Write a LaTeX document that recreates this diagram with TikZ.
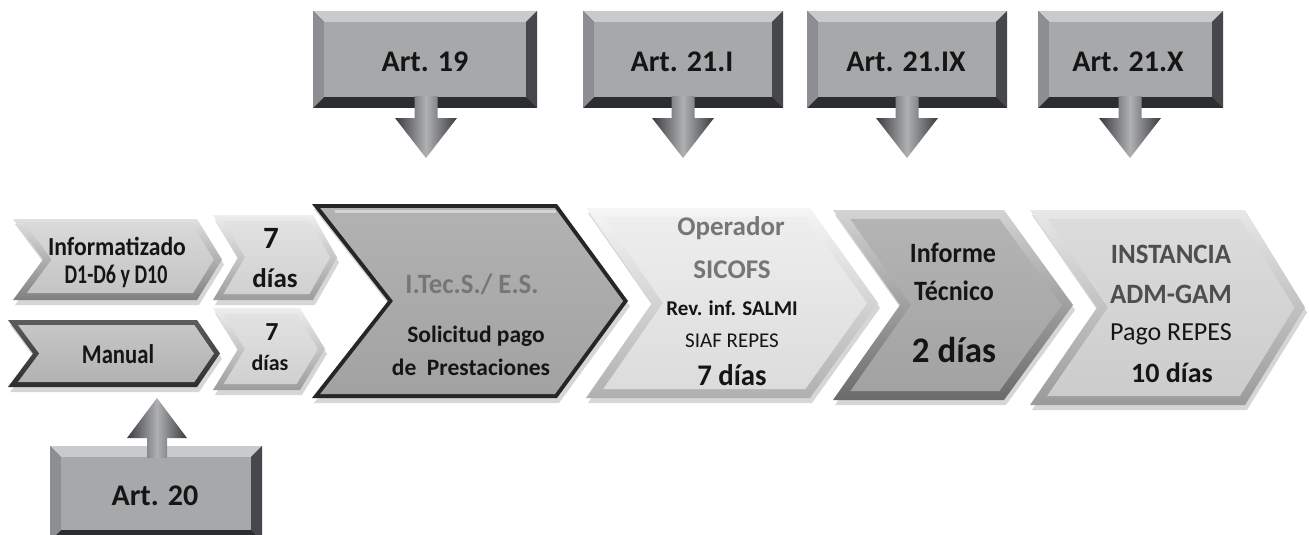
\documentclass[tikz,border=0pt]{standalone}
\usepackage{fontspec}
\setmainfont{Carlito}
\usepackage{graphicx}

% bevelled label boxes
\definecolor{artface}{HTML}{A6A8AA}
\definecolor{artlight}{HTML}{C9CACC}
\definecolor{artmid}{HTML}{8C8E92}
\definecolor{artdark}{HTML}{2C2D31}
\definecolor{artright}{HTML}{46474B}
% block arrows
\definecolor{arrdark}{HTML}{3A3B3F}
\definecolor{arrlight}{HTML}{AEB0B2}
% text inks
\definecolor{ink}{HTML}{151515}
\definecolor{inkgray}{HTML}{767676}
\definecolor{inkdark}{HTML}{4E4E4E}
% chevron fills (outer rim / face)
\definecolor{infOa}{HTML}{E0E0E0}\definecolor{infOb}{HTML}{808080}
\definecolor{infFa}{HTML}{D8D8D8}\definecolor{infFb}{HTML}{C4C4C4}
\definecolor{manOa}{HTML}{5C5C5C}\definecolor{manOb}{HTML}{2E2E2E}
\definecolor{manFa}{HTML}{C6C6C6}\definecolor{manFb}{HTML}{B2B2B2}
\definecolor{dayOa}{HTML}{EEEEEE}\definecolor{dayOb}{HTML}{9C9C9C}
\definecolor{dayFa}{HTML}{E2E2E2}\definecolor{dayFb}{HTML}{D0D0D0}
\definecolor{itcO}{HTML}{262626}
\definecolor{itcFa}{HTML}{B2B2B2}\definecolor{itcFb}{HTML}{A2A2A2}
\definecolor{opOa}{HTML}{F6F6F6}\definecolor{opOb}{HTML}{B0B0B0}
\definecolor{opFa}{HTML}{EEEEEE}\definecolor{opFb}{HTML}{DCDCDC}
\definecolor{tecOa}{HTML}{D4D4D4}\definecolor{tecOb}{HTML}{6A6A6A}
\definecolor{tecFa}{HTML}{B4B4B4}\definecolor{tecFb}{HTML}{A2A2A2}
\definecolor{insOa}{HTML}{E8E8E8}\definecolor{insOb}{HTML}{9A9A9A}
\definecolor{insFa}{HTML}{DCDCDC}\definecolor{insFb}{HTML}{CCCCCC}

% chevron: #1 left x, #2 top-right x, #3 tip x, #4 top y, #5 bottom y,
% #6 notch depth, #7 rim width, #8 rim fill, #9 face fill
\newcommand\chev[9]{%
  \pgfmathsetmacro\chmid{(#4+#5)/2}%
  \pgfmathsetmacro\chhalf{(#5-#4)/2}%
  \pgfmathsetmacro\chhr{#7*veclen(#3-#2,\chhalf)/\chhalf}%
  \pgfmathsetmacro\chhl{#7*veclen(#6,\chhalf)/\chhalf}%
  \pgfmathsetmacro\chxl{#1+\chhl+#6*#7/\chhalf}%
  \pgfmathsetmacro\chxr{#2-\chhr+(#3-#2)*#7/\chhalf}%
  \fill[black,opacity=.16] ({#1+2},{#4+5}) -- ({#2+2},{#4+5}) -- ({#3+2},{\chmid+5})
    -- ({#2+2},{#5+5}) -- ({#1+2},{#5+5}) -- ({#1+#6+2},{\chmid+5}) -- cycle;
  \shade[#8] (#1,#4) -- (#2,#4) -- (#3,\chmid) -- (#2,#5) -- (#1,#5)
    -- ({#1+#6},\chmid) -- cycle;
  \shade[#9] (\chxl,{#4+#7}) -- (\chxr,{#4+#7}) -- ({#3-\chhr},\chmid)
    -- (\chxr,{#5-#7}) -- (\chxl,{#5-#7}) -- ({#1+#6+\chhl},\chmid) -- cycle;
}

% bevelled box: #1 left, #2 top, #3 right, #4 bottom
\newcommand\artbox[4]{%
  \fill[artdark] (#1,#2) rectangle (#3,#4);
  \fill[artlight] (#1,#2) -- (#3,#2) -- ({#3-11},{#2+11}) -- ({#1+11},{#2+11}) -- cycle;
  \fill[artmid] (#1,#2) -- ({#1+11},{#2+11}) -- ({#1+11},{#4-11}) -- (#1,#4) -- cycle;
  \fill[artright] (#3,#2) -- ({#3-11},{#2+11}) -- ({#3-11},{#4-11}) -- (#3,#4) -- cycle;
  \fill[artface] ({#1+11},{#2+11}) rectangle ({#3-11},{#4-11});
}

% block arrow pointing down: #1 centre x, #2 shaft top, #3 tip y
\newcommand\arrdown[3]{%
  \shade[arrowfill] ({#1-11.5},#2) -- ({#1+11.5},#2) -- ({#1+11.5},{#3-40})
    -- ({#1+31},{#3-40}) -- (#1,#3) -- ({#1-31},{#3-40}) -- ({#1-11.5},{#3-40}) -- cycle;
}
% block arrow pointing up: #1 centre x, #2 shaft bottom, #3 tip y
\newcommand\arrup[3]{%
  \shade[arrowfill] ({#1-10},#2) -- ({#1+10},#2) -- ({#1+10},{#3+40})
    -- ({#1+30},{#3+40}) -- (#1,#3) -- ({#1-30},{#3+40}) -- ({#1-10},{#3+40}) -- cycle;
}

\begin{document}
\begin{tikzpicture}[x=1pt,y=-1pt,
  arrowfill/.style={left color=arrdark,right color=arrdark,middle color=arrlight},
  lbl/.style={anchor=base,inner sep=0pt,text=ink},
  arttext/.style={lbl,font=\fontsize{30}{36}\selectfont\bfseries}]
\useasboundingbox (0,0) rectangle (1309,535);
\clip (0,0) rectangle (1309,535);
\fill[white] (0,0) rectangle (1309,535);

% ---- process chevrons ----
\chev{13}{197}{222}{219}{300}{30}{7}{top color=infOa,bottom color=infOb}{top color=infFa,bottom color=infFb}
\chev{8}{197}{220}{320}{387}{25}{5}{top color=manOa,bottom color=manOb}{top color=manFa,bottom color=manFb}
\chev{213}{313}{337}{215}{300}{25}{6}{top color=dayOa,bottom color=dayOb}{top color=dayFa,bottom color=dayFb}
\chev{213}{300}{325}{308}{390}{25}{6}{top color=dayOa,bottom color=dayOb}{top color=dayFa,bottom color=dayFb}
\chev{312}{557}{628}{204}{398}{76}{4}{top color=itcO,bottom color=itcO}{top color=itcFa,bottom color=itcFb}
\draw[white,opacity=.45,line width=3pt] (335,211) -- (556,211);
\chev{586}{810}{878}{208}{398}{66}{9}{top color=opOa,bottom color=opOb}{top color=opFa,bottom color=opFb}
\chev{833}{1004}{1073}{210}{400}{67}{9}{top color=tecOa,bottom color=tecOb}{top color=tecFa,bottom color=tecFb}
\chev{1030}{1245}{1305}{210}{405}{67}{9}{top color=insOa,bottom color=insOb}{top color=insFa,bottom color=insFb}

% ---- chevron texts ----
\node[lbl,font=\fontsize{26}{30}\selectfont\bfseries] (inf1) at (117,255) {\scalebox{0.91}[1]{Informatizado}};
\node[lbl,font=\fontsize{27}{30}\selectfont\bfseries] (inf2) at (116,283) {\scalebox{0.74}[1]{D1-D6 y D10}};
\node[lbl,font=\fontsize{27}{30}\selectfont\bfseries] (man) at (118,363) {\scalebox{0.84}[1]{Manual}};
\node[lbl,font=\fontsize{31}{34}\selectfont\bfseries] (d7a1) at (271,248) {7};
\node[lbl,font=\fontsize{27}{32}\selectfont\bfseries] (d7a2) at (275,287) {días};
\node[lbl,font=\fontsize{26}{30}\selectfont\bfseries] (d7b1) at (272,340) {7};
\node[lbl,font=\fontsize{22}{26}\selectfont\bfseries] (d7b2) at (270,370) {días};

\node[lbl,text=inkgray,font=\fontsize{28}{32}\selectfont\bfseries] (itc1) at (472,293) {\scalebox{0.96}[1]{I.Tec.S./ E.S.}};
\node[lbl,font=\fontsize{23.5}{28}\selectfont\bfseries] (itc2) at (476,342) {Solicitud pago};
\node[lbl,font=\fontsize{23.5}{28}\selectfont\bfseries] (itc3) at (471,375) {de\ \ Prestaciones};

\node[lbl,text=inkgray,font=\fontsize{27}{32}\selectfont\bfseries] (op1) at (731,235) {Operador};
\node[lbl,text=inkgray,font=\fontsize{27}{32}\selectfont\bfseries] (op2) at (732,278) {SICOFS};
\node[lbl,font=\fontsize{21}{25}\selectfont\bfseries] (op3) at (732,315) {Rev. inf. SALMI};
\node[lbl,font=\fontsize{21}{25}\selectfont] (op4) at (732,347) {SIAF REPES};
\node[lbl,font=\fontsize{30}{34}\selectfont\bfseries] (op5) at (732,385) {\scalebox{0.96}[1]{7 días}};

\node[lbl,font=\fontsize{28}{31}\selectfont\bfseries] (tec1) at (953,262) {\scalebox{0.93}[1]{Informe}};
\node[lbl,font=\fontsize{28}{31}\selectfont\bfseries] (tec2) at (954,300) {\scalebox{0.93}[1]{Técnico}};
\node[lbl,font=\fontsize{36}{40}\selectfont\bfseries] (tec3) at (954,362) {\scalebox{0.97}[1]{2 días}};

\node[lbl,text=inkdark,font=\fontsize{28}{32}\selectfont\bfseries] (ins1) at (1171,263) {\scalebox{0.96}[1]{INSTANCIA}};
\node[lbl,text=inkdark,font=\fontsize{28}{32}\selectfont\bfseries] (ins2) at (1171,303) {\scalebox{0.96}[1]{ADM-GAM}};
\node[lbl,font=\fontsize{26}{31}\selectfont] (ins3) at (1171,340) {Pago REPES};
\node[lbl,font=\fontsize{28}{33}\selectfont\bfseries] (ins4) at (1172,382) {10 días};

% ---- article boxes with their arrows ----
\artbox{313}{11}{537}{108}
\node[arttext] (a19) at (425,72) {Art. 19};
\arrdown{426}{96}{158}

\artbox{583}{11}{783}{108}
\node[arttext] (a21i) at (682,72) {Art. 21.I};
\arrdown{683}{96}{158}

\artbox{807}{11}{1007}{108}
\node[arttext] (a21ix) at (906,72) {Art. 21.IX};
\arrdown{907}{96}{158}

\artbox{1038}{11}{1223}{108}
\node[arttext] (a21x) at (1128,72) {Art. 21.X};
\arrdown{1130}{96}{158}

\artbox{50}{446}{262}{541}
\node[arttext] (a20) at (155,505) {Art. 20};
\arrup{157}{458}{398}
\end{tikzpicture}
\end{document}
